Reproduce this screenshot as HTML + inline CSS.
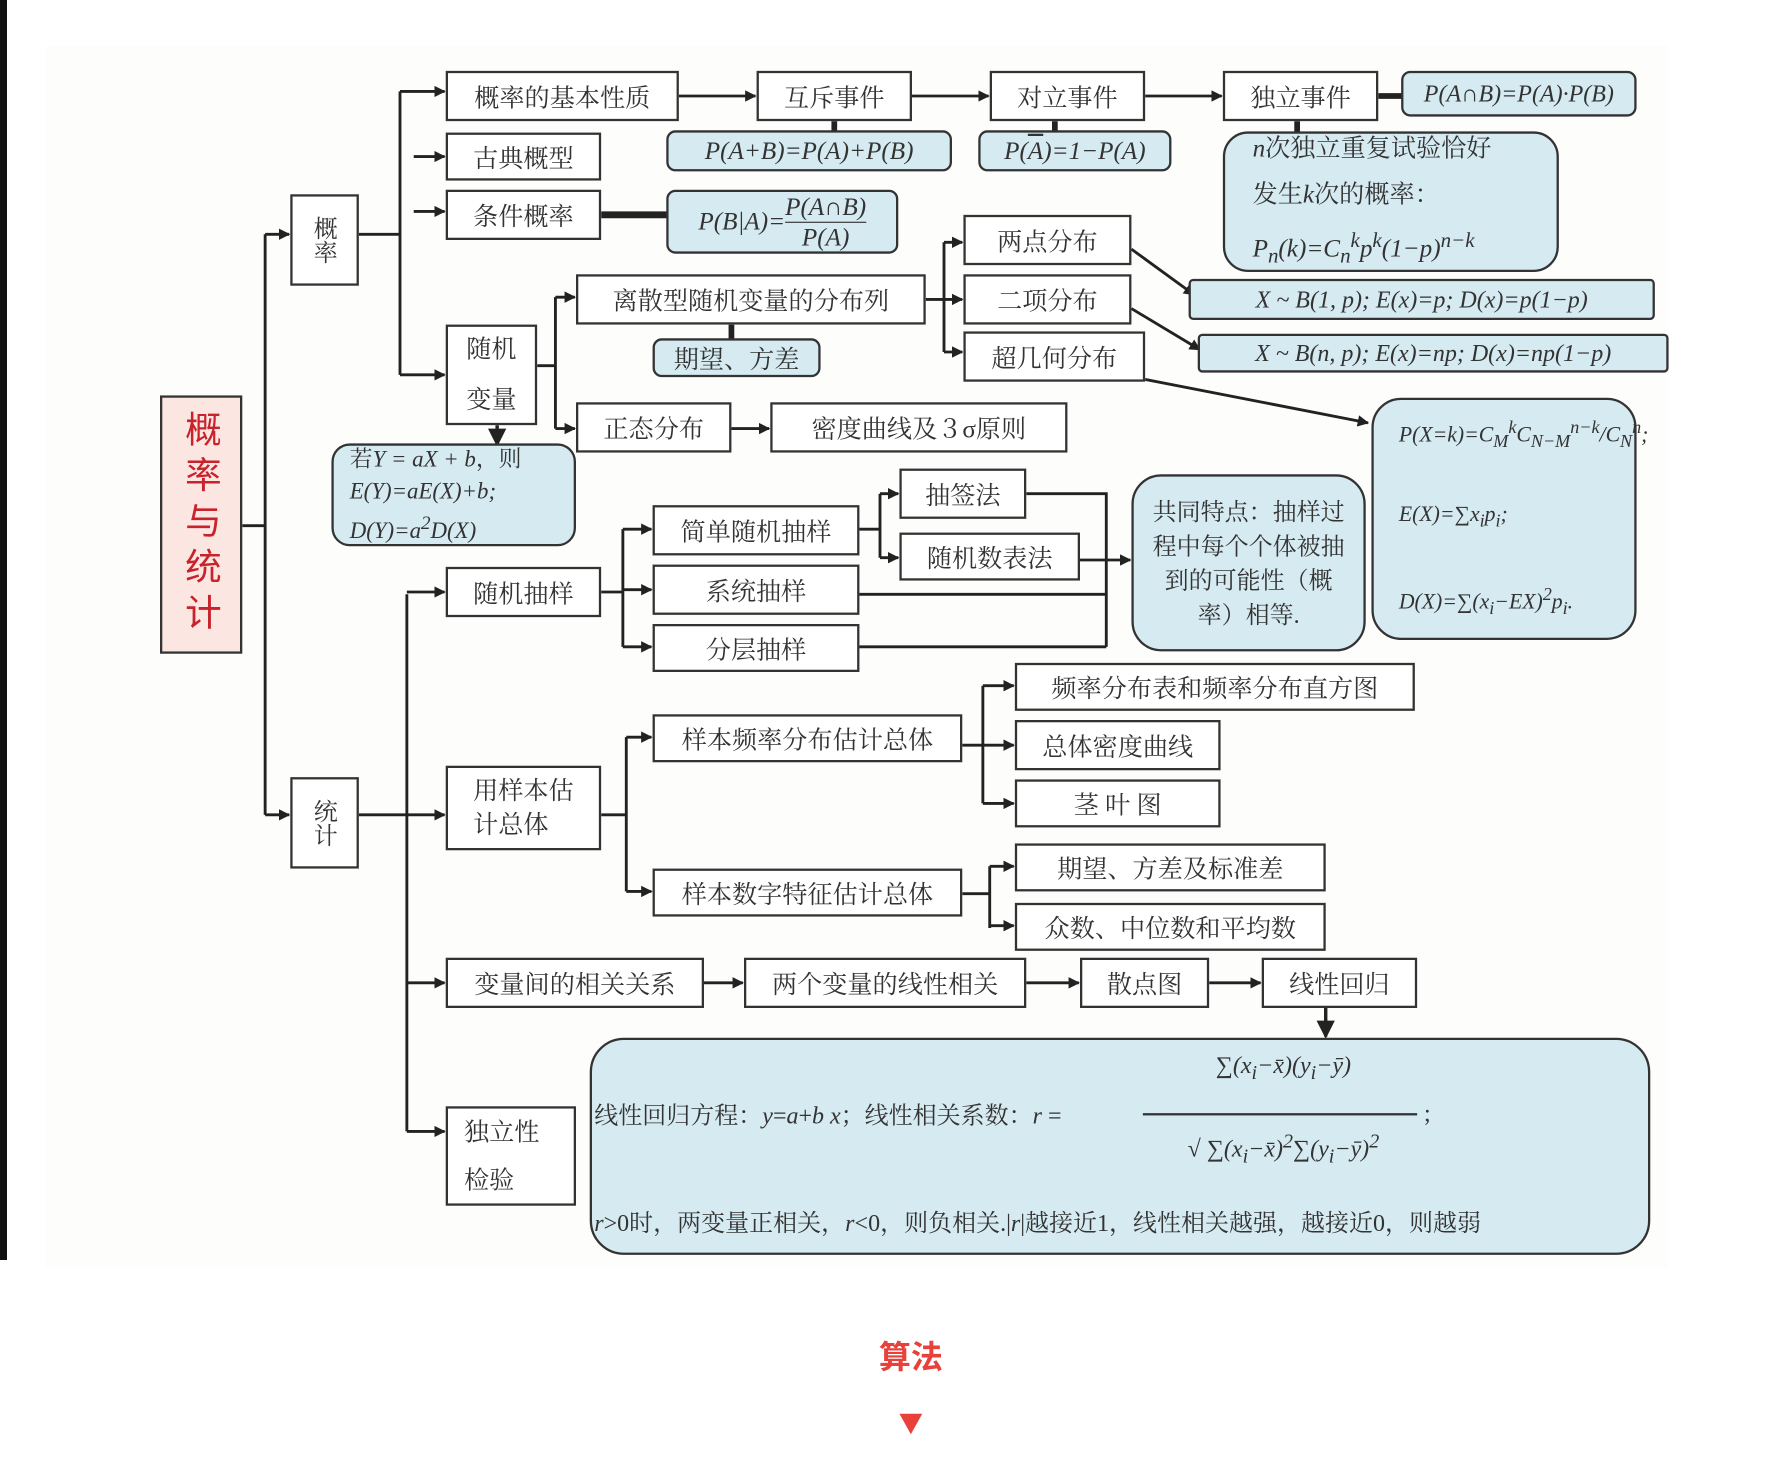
<!DOCTYPE html>
<html><head><meta charset="utf-8"><style>
html,body{margin:0;padding:0;background:#fff;width:1792px;height:1472px;overflow:hidden}
#w{position:absolute;left:0;top:0;width:1568px;height:1288px;transform:scale(1.142857);transform-origin:0 0;font-family:"Liberation Serif","Noto Serif CJK SC","Noto Sans CJK SC",serif;color:#333}
.b{position:absolute;border:2.5px solid #333;background:#fff;box-sizing:border-box;display:flex;align-items:center;justify-content:center;font-size:22px;white-space:nowrap}
.f{position:absolute;border:2.5px solid #333;background:#d5eaf1;box-sizing:border-box;border-radius:8px;display:flex;align-items:center;justify-content:center;font-size:22px;font-style:italic;white-space:nowrap}
.c{font-style:normal}
svg{position:absolute;left:0;top:0}
</style></head><body>
<div style="position:absolute;left:0;top:0;width:7px;height:1260px;background:#111"></div>
<div id="w">
<div style="position:absolute;left:40px;top:40px;width:1420px;height:1070px;background:#fdfdfc"></div>
<svg width="1568" height="1288" viewBox="0 0 1568 1288">
<defs><marker id="a" markerWidth="10" markerHeight="10" refX="9" refY="5" orient="auto" markerUnits="userSpaceOnUse"><path d="M0,0 L10,5 L0,10z" fill="#222"/></marker>
<marker id="d" markerWidth="16" markerHeight="16" refX="14" refY="8" orient="auto" markerUnits="userSpaceOnUse"><path d="M0,0 L16,8 L0,16z" fill="#222"/></marker></defs>
<g stroke="#222" stroke-width="2.5" fill="none">
<path d="M212 460H232M232 205V713"/>
<path d="M314 205H350M350 80V328"/>
<path d="M1206 84H1228" stroke-width="5"/>
<path d="M526 188H584" stroke-width="6"/>
<path d="M730 106V116M923 106V116M1135 106V117M640 284V297" stroke-width="5"/>
<path d="M470 320H486M486 260V375"/>
<path d="M810 262H826M826 212V308"/>
<path d="M314 713H356M356 520V990"/>
<path d="M526 518H545M545 463V566"/>
<path d="M752 463H770M770 432V488"/>
<path d="M898 432H968V566M752 520H968M752 566H968"/>
<path d="M526 713H548M548 645V780"/>
<path d="M842 652H860M860 600V703"/>
<path d="M842 782H866M866 758V812"/>
</g>
<g stroke="#222" stroke-width="2.5" fill="none" marker-end="url(#a)">
<path d="M232 205H253"/><path d="M232 713H253"/>
<path d="M350 80H389"/><path d="M362 137H389"/><path d="M362 185H389"/><path d="M350 328H389"/>
<path d="M594 84H661"/><path d="M798 84H865"/><path d="M1002 84H1069"/>
<path d="M486 260H503"/><path d="M486 375H503"/><path d="M640 375H673"/>
<path d="M826 212H842"/><path d="M826 262H842"/><path d="M826 308H842"/>
<path d="M990 218L1045 258"/><path d="M990 270L1050 306"/><path d="M1002 332L1197 370"/>
<path d="M356 518H389"/><path d="M356 713H389"/><path d="M356 860H389"/><path d="M356 990H389"/>
<path d="M545 463H570"/><path d="M545 516H570"/><path d="M545 566H570"/>
<path d="M770 432H786"/><path d="M770 488H786"/>
<path d="M945 490H989"/>
<path d="M548 645H570"/><path d="M548 780H570"/>
<path d="M860 600H887"/><path d="M860 652H887"/><path d="M860 703H887"/>
<path d="M866 758H887"/><path d="M866 810H887"/>
<path d="M616 860H650"/><path d="M898 860H944"/><path d="M1058 860H1103"/>
</g>
<g stroke="#222" stroke-width="3" fill="none" marker-end="url(#d)">
<path d="M435 372V389"/><path d="M1160 882V907"/>
</g></svg>

<div class="b" style="left:140px;top:346px;width:72px;height:226px;background:#fce6e2;color:#c8232c;font-size:32px;writing-mode:vertical-rl;letter-spacing:8px;font-family:'Liberation Sans','Noto Sans CJK SC',sans-serif">概率与统计</div>
<div class="b" style="left:254px;top:170px;width:60px;height:80px;writing-mode:vertical-rl;font-size:21px">概率</div>
<div class="b" style="left:254px;top:680px;width:60px;height:80px;writing-mode:vertical-rl;font-size:21px">统计</div>
<div class="b" style="left:390px;top:62px;width:204px;height:44px">概率的基本性质</div>
<div class="b" style="left:390px;top:116px;width:136px;height:42px">古典概型</div>
<div class="b" style="left:390px;top:166px;width:136px;height:44px">条件概率</div>
<div class="b" style="left:390px;top:284px;width:80px;height:88px;flex-direction:column;line-height:44px">随机<br>变量</div>
<div class="b" style="left:662px;top:62px;width:136px;height:44px">互斥事件</div>
<div class="b" style="left:866px;top:62px;width:136px;height:44px">对立事件</div>
<div class="b" style="left:1070px;top:62px;width:136px;height:44px">独立事件</div>
<div class="f" style="left:583px;top:114px;width:250px;height:36px">P(A+B)=P(A)+P(B)</div>
<div class="f" style="left:856px;top:114px;width:169px;height:36px">P(<span style="text-decoration:overline">A</span>)=1−P(A)</div>
<div class="f" style="left:1226px;top:62px;width:206px;height:40px;font-size:21px">P(A∩B)=P(A)·P(B)</div>
<div class="f" style="left:1070px;top:115px;width:294px;height:123px;border-radius:22px;flex-direction:column;align-items:flex-start;padding-left:24px;line-height:40px"><span><i>n</i><span class="c">次独立重复试验恰好</span></span><span class="c">发生<i>k</i>次的概率：</span><span>P<sub>n</sub>(k)=C<sub>n</sub><sup>k</sup>p<sup>k</sup>(1−p)<sup>n−k</sup></span></div>
<div class="f" style="left:583px;top:166px;width:203px;height:56px">P(B|A)=<span style="display:inline-flex;flex-direction:column;align-items:center;line-height:26px"><span style="border-bottom:1.5px solid #333">P(A∩B)</span><span>P(A)</span></span></div>
<div class="b" style="left:504px;top:240px;width:306px;height:44px">离散型随机变量的分布列</div>
<div class="f" style="left:571px;top:296px;width:147px;height:34px;font-style:normal">期望、方差</div>
<div class="b" style="left:504px;top:352px;width:136px;height:44px">正态分布</div>
<div class="b" style="left:674px;top:352px;width:260px;height:44px">密度曲线及３σ原则</div>
<div class="b" style="left:843px;top:188px;width:147px;height:44px">两点分布</div>
<div class="b" style="left:843px;top:240px;width:147px;height:44px">二项分布</div>
<div class="b" style="left:843px;top:290px;width:159px;height:44px">超几何分布</div>
<div class="f" style="left:1040px;top:244px;width:408px;height:36px;border-radius:4px;font-size:21px">X ~ B(1, p); E(x)=p; D(x)=p(1−p)</div>
<div class="f" style="left:1048px;top:292px;width:412px;height:34px;border-radius:4px;font-size:21px">X ~ B(n, p); E(x)=np; D(x)=np(1−p)</div>
<div class="f" style="left:1200px;top:348px;width:232px;height:212px;border-radius:26px;flex-direction:column;align-items:flex-start;padding-left:22px;font-size:19px;line-height:64px"><span>P(X=k)=C<sub>M</sub><sup>k</sup>C<sub>N−M</sub><sup>n−k</sup>/C<sub>N</sub><sup>n</sup>;</span><span>E(X)=∑x<sub>i</sub>p<sub>i</sub>;</span><span>D(X)=∑(x<sub>i</sub>−EX)<sup>2</sup>p<sub>i</sub>.</span></div>
<div class="f" style="left:290px;top:388px;width:214px;height:90px;border-radius:16px;flex-direction:column;align-items:flex-start;padding-left:14px;line-height:28px;font-size:20px;overflow:hidden"><span><span class="c">若</span>Y = aX + b<span class="c">，则</span></span><span>E(Y)=aE(X)+b;</span><span>D(Y)=a<sup>2</sup>D(X)</span></div>
<div class="b" style="left:390px;top:496px;width:136px;height:44px">随机抽样</div>
<div class="b" style="left:571px;top:442px;width:181px;height:44px">简单随机抽样</div>
<div class="b" style="left:571px;top:494px;width:181px;height:44px">系统抽样</div>
<div class="b" style="left:571px;top:546px;width:181px;height:42px">分层抽样</div>
<div class="b" style="left:787px;top:410px;width:111px;height:44px">抽签法</div>
<div class="b" style="left:787px;top:466px;width:158px;height:42px">随机数表法</div>
<div class="f" style="left:990px;top:415px;width:205px;height:155px;border-radius:26px;font-style:normal;white-space:normal;padding:0 16px;line-height:30px;font-size:21px;text-align:center">共同特点：抽样过程中每个个体被抽到的可能性（概率）相等.</div>
<div class="b" style="left:390px;top:670px;width:136px;height:74px;flex-direction:column;line-height:30px">用样本估<br>计总体</div>
<div class="b" style="left:571px;top:625px;width:271px;height:42px">样本频率分布估计总体</div>
<div class="b" style="left:571px;top:760px;width:271px;height:42px">样本数字特征估计总体</div>
<div class="b" style="left:888px;top:580px;width:350px;height:42px">频率分布表和频率分布直方图</div>
<div class="b" style="left:888px;top:630px;width:180px;height:44px">总体密度曲线</div>
<div class="b" style="left:888px;top:682px;width:180px;height:42px">茎 叶 图</div>
<div class="b" style="left:888px;top:738px;width:272px;height:42px">期望、方差及标准差</div>
<div class="b" style="left:888px;top:790px;width:272px;height:42px">众数、中位数和平均数</div>
<div class="b" style="left:390px;top:838px;width:226px;height:44px">变量间的相关关系</div>
<div class="b" style="left:651px;top:838px;width:247px;height:44px">两个变量的线性相关</div>
<div class="b" style="left:945px;top:838px;width:113px;height:44px">散点图</div>
<div class="b" style="left:1104px;top:838px;width:136px;height:44px">线性回归</div>
<div class="b" style="left:390px;top:968px;width:114px;height:87px;flex-direction:column;align-items:flex-start;padding-left:14px;line-height:42px">独立性<br>检验</div>
<div class="f" style="left:516px;top:908px;width:928px;height:190px;border-radius:30px;font-style:normal;display:block;font-size:21px">
<div style="position:absolute;left:2px;top:50px">线性回归方程：<i>y</i>=<i>a</i>+<i>b x</i>；线性相关系数：<i>r</i> =</div>
<div style="position:absolute;left:485px;top:10px;width:240px;text-align:center;font-style:italic">∑(x<sub>i</sub>−x̄)(y<sub>i</sub>−ȳ)</div>
<div style="position:absolute;left:482px;top:64px;width:240px;border-top:2px solid #333"></div>
<div style="position:absolute;left:728px;top:52px">;</div>
<div style="position:absolute;left:485px;top:78px;width:240px;text-align:center;font-style:italic">√ ∑(x<sub>i</sub>−x̄)<sup>2</sup>∑(y<sub>i</sub>−ȳ)<sup>2</sup></div>
<div style="position:absolute;left:2px;top:144px"><i>r</i>&gt;0时，两变量正相关，<i>r</i>&lt;0，则负相关.|<i>r</i>|越接近1，线性相关越强，越接近0，则越弱</div>
</div>
<div style="position:absolute;left:737px;top:1166px;width:120px;text-align:center;color:#e8403a;font-weight:bold;font-size:28px;font-family:'Liberation Sans','Noto Sans CJK SC',sans-serif">算法</div>
<div style="position:absolute;left:787px;top:1237px;width:0;height:0;border-left:10px solid transparent;border-right:10px solid transparent;border-top:18px solid #e8403a"></div>
</div>
</body></html>
